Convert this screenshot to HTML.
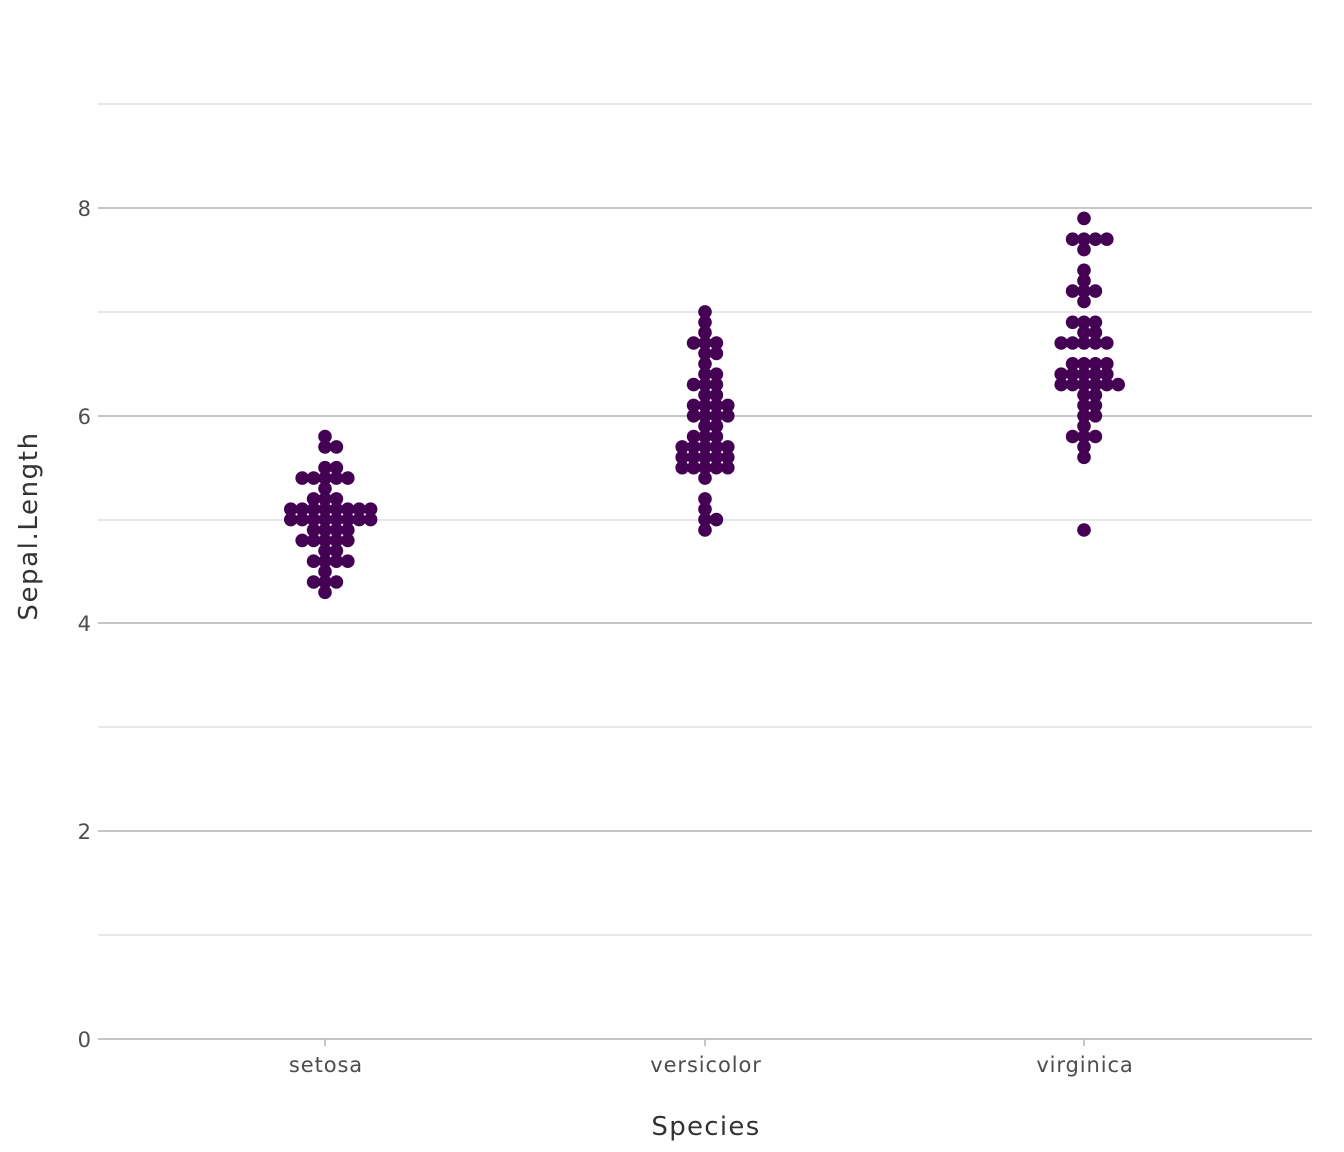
<!DOCTYPE html>
<html><head><meta charset="utf-8"><style>
html,body{margin:0;padding:0;background:#fff}
svg{display:block;font-family:"DejaVu Sans","Liberation Sans",sans-serif}
</style></head><body>
<svg id="s" width="1344" height="1152" xmlns="http://www.w3.org/2000/svg">
<g stroke="#d9d9d9" stroke-width="1.2">
<line x1="98" x2="1312" y1="104" y2="104"/><line x1="98" x2="1312" y1="312" y2="312"/><line x1="98" x2="1312" y1="520" y2="520"/><line x1="98" x2="1312" y1="727" y2="727"/><line x1="98" x2="1312" y1="935" y2="935"/>
</g>
<g stroke="#bebebe" stroke-width="1.8">
<line x1="98" x2="1312" y1="208" y2="208"/><line x1="98" x2="1312" y1="416" y2="416"/><line x1="98" x2="1312" y1="623" y2="623"/><line x1="98" x2="1312" y1="831" y2="831"/><line x1="98" x2="1312" y1="1039" y2="1039"/>
</g>
<g stroke="#bebebe" stroke-width="1.8">
<line x1="325" x2="325" y1="1039" y2="1046"/><line x1="705" x2="705" y1="1039" y2="1046"/><line x1="1084" x2="1084" y1="1039" y2="1046"/>
</g>
<g fill="#4d4d4d" font-size="21" text-anchor="end">
<text x="91" y="216">8</text><text x="91" y="424">6</text><text x="91" y="631">4</text><text x="91" y="839">2</text><text x="91" y="1047">0</text>
</g>
<g fill="#4d4d4d" font-size="21" letter-spacing="0.9" text-anchor="middle">
<text x="326" y="1072">setosa</text><text x="706" y="1072">versicolor</text><text x="1085" y="1072">virginica</text>
</g>
<text x="706" y="1135" font-size="26" letter-spacing="1.3" fill="#333" text-anchor="middle">Species</text>
<text transform="translate(37,526) rotate(-90)" font-size="26" letter-spacing="1.6" fill="#333" text-anchor="middle">Sepal.Length</text>
<g id="dots" fill="#440154"></g>
</svg>
<script>
var data=[[325,{4.3:1,4.4:3,4.5:1,4.6:4,4.7:2,4.8:5,4.9:4,5.0:8,5.1:8,5.2:3,5.3:1,5.4:5,5.5:2,5.7:2,5.8:1}],
[705,{4.9:1,5.0:2,5.1:1,5.2:1,5.4:1,5.5:5,5.6:5,5.7:5,5.8:3,5.9:2,6.0:4,6.1:4,6.2:2,6.3:3,6.4:2,6.5:1,6.6:2,6.7:3,6.8:1,6.9:1,7.0:1}],
[1084,{4.9:1,5.6:1,5.7:1,5.8:3,5.9:1,6.0:2,6.1:2,6.2:2,6.3:6,6.4:5,6.5:4,6.7:5,6.8:2,6.9:3,7.1:1,7.2:3,7.3:1,7.4:1,7.6:1,7.7:4,7.9:1}]];
var g=document.getElementById('dots'),h='';
data.forEach(function(d){var cx=d[0];for(var k in d[1]){var n=d[1][k],v=parseFloat(k),y=1039-103.875*v;
var st=-Math.floor((n-1)/2);for(var i=0;i<n;i++){h+='<circle cx="'+(cx+(st+i)*11.4).toFixed(1)+'" cy="'+y.toFixed(1)+'" r="6.8"/>';}}});
g.innerHTML=h;
</script>
</body></html>
